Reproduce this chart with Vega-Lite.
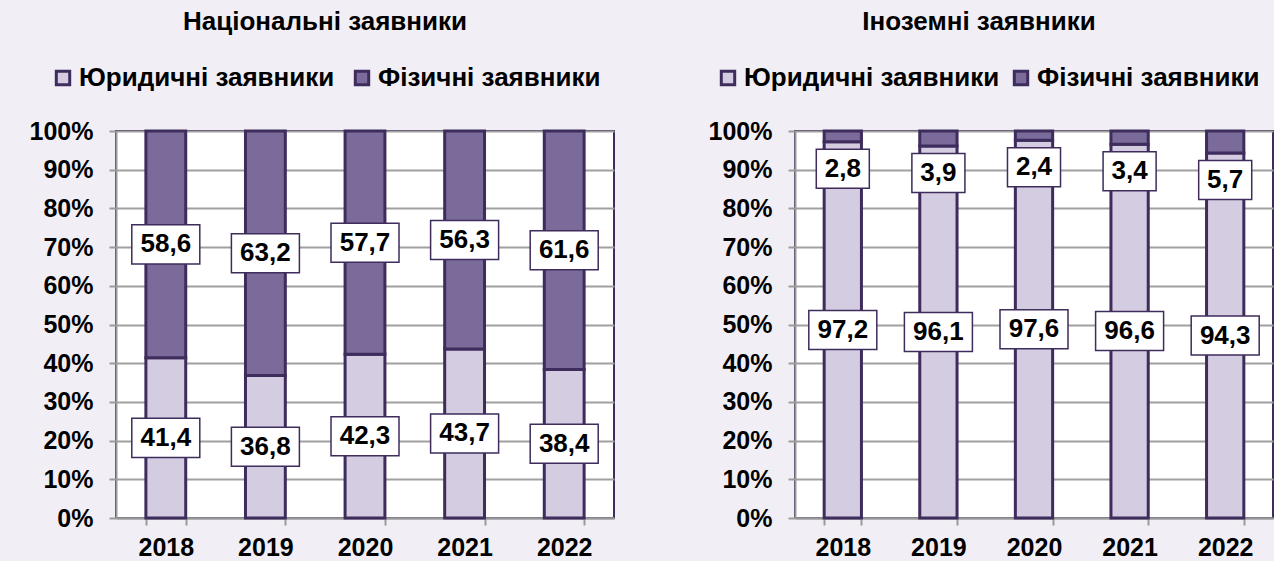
{
  "$schema": "https://vega.github.io/schema/vega-lite/v6.json",
  "background": "#F1EFF5",
  "padding": {"left": 28, "top": 8, "right": 0, "bottom": 0},
  "spacing": 92,
  "resolve": {"scale": {"color": "independent"}, "legend": {"color": "independent"}},
  "config": {
    "font": "Liberation Sans",
    "locale": {"number": {"decimal": ",", "thousands": " ", "grouping": [3], "currency": ["", ""]}},
    "view": {"fill": "white", "stroke": "#3E2C5C", "strokeWidth": 2},
    "title": {"fontSize": 26, "fontWeight": "bold", "color": "black", "font": "Liberation Sans"},
    "axisX": {"labelAngle": 0, "title": null, "domainColor": "#9A9A9A", "domainWidth": 2, "tickColor": "#9A9A9A", "tickWidth": 2, "tickSize": 7, "tickBand": "extent", "labelFontSize": 25, "labelFontWeight": "bold", "labelColor": "black", "labelPadding": 10, "grid": false},
    "axisY": {"title": null, "values": [0, 10, 20, 30, 40, 50, 60, 70, 80, 90, 100], "labelExpr": "datum.value + '%'", "grid": true, "gridColor": "#A0A0A0", "gridWidth": 2, "domainColor": "#9A9A9A", "domainWidth": 2, "tickColor": "#9A9A9A", "tickWidth": 2, "tickSize": 7, "labelPadding": 16, "labelFontSize": 25, "labelFontWeight": "bold", "labelColor": "black"},
    "legend": {"orient": "none", "direction": "horizontal", "title": null, "labelFontSize": 26, "labelFontWeight": "bold", "labelColor": "black", "symbolType": "square", "symbolSize": 180, "symbolStrokeColor": "#3E2C5C", "symbolStrokeWidth": 3, "symbolOpacity": 1, "columnPadding": 14, "labelOffset": 3, "labelLimit": 400}
  },
  "datasets": {
    "nat": [
      {"year": "2018", "series": "Юридичні заявники", "value": 41.4},
      {"year": "2018", "series": "Фізичні заявники", "value": 58.6},
      {"year": "2019", "series": "Юридичні заявники", "value": 36.8},
      {"year": "2019", "series": "Фізичні заявники", "value": 63.2},
      {"year": "2020", "series": "Юридичні заявники", "value": 42.3},
      {"year": "2020", "series": "Фізичні заявники", "value": 57.7},
      {"year": "2021", "series": "Юридичні заявники", "value": 43.7},
      {"year": "2021", "series": "Фізичні заявники", "value": 56.3},
      {"year": "2022", "series": "Юридичні заявники", "value": 38.4},
      {"year": "2022", "series": "Фізичні заявники", "value": 61.6}
    ],
    "for": [
      {"year": "2018", "series": "Юридичні заявники", "value": 97.2},
      {"year": "2018", "series": "Фізичні заявники", "value": 2.8},
      {"year": "2019", "series": "Юридичні заявники", "value": 96.1},
      {"year": "2019", "series": "Фізичні заявники", "value": 3.9},
      {"year": "2020", "series": "Юридичні заявники", "value": 97.6},
      {"year": "2020", "series": "Фізичні заявники", "value": 2.4},
      {"year": "2021", "series": "Юридичні заявники", "value": 96.6},
      {"year": "2021", "series": "Фізичні заявники", "value": 3.4},
      {"year": "2022", "series": "Юридичні заявники", "value": 94.3},
      {"year": "2022", "series": "Фізичні заявники", "value": 5.7}
    ]
  },
  "hconcat": [
    {
      "width": 498,
      "height": 387,
      "title": {"text": "Національні заявники", "anchor": "middle", "frame": "group", "dx": -40, "offset": 30},
      "data": {"name": "nat"},
      "transform": [{"stack": "value", "groupby": ["year"], "sort": [{"field": "series", "order": "descending"}], "as": ["v0", "v1"]}],
      "layer": [
        {
          "mark": {"type": "bar", "stroke": "#3E2C5C", "strokeWidth": 3},
          "encoding": {
            "x": {"field": "year", "type": "ordinal", "scale": {"paddingInner": 0.6, "paddingOuter": 0.3}},
            "y": {"field": "v0", "type": "quantitative", "scale": {"domain": [0, 100]}},
            "y2": {"field": "v1"},
            "color": {"field": "series", "type": "nominal", "scale": {"domain": ["Юридичні заявники", "Фізичні заявники"], "range": ["#D4CCE0", "#7B6B9B"]}, "legend": {"legendX": -66, "legendY": -66}}
          }
        },
        {
          "transform": [{"fold": ["v0", "v1"], "as": ["edge", "pos"]}],
          "mark": {"type": "point", "shape": "M-1,-0.574L1,-0.574L1,0.574L-1,0.574Z", "size": 4624, "filled": true, "fill": "white", "stroke": "#3E2C5C", "strokeWidth": 1.5, "opacity": 1},
          "encoding": {
            "x": {"field": "year", "type": "ordinal"},
            "y": {"aggregate": "mean", "field": "pos", "type": "quantitative", "stack": null},
            "detail": {"field": "series", "type": "nominal"}
          }
        },
        {
          "transform": [{"fold": ["v0", "v1"], "as": ["edge", "pos"]}],
          "mark": {"type": "text", "fontSize": 26, "fontWeight": "bold", "color": "black", "baseline": "middle", "align": "center"},
          "encoding": {
            "x": {"field": "year", "type": "ordinal"},
            "y": {"aggregate": "mean", "field": "pos", "type": "quantitative", "stack": null},
            "detail": {"field": "series", "type": "nominal"},
            "text": {"aggregate": "max", "field": "value", "type": "quantitative", "format": ".1f"}
          }
        }
      ]
    },
    {
      "width": 478,
      "height": 387,
      "title": {"text": "Іноземні заявники", "anchor": "middle", "frame": "group", "dx": -55, "offset": 30},
      "data": {"name": "for"},
      "transform": [{"stack": "value", "groupby": ["year"], "sort": [{"field": "series", "order": "descending"}], "as": ["v0", "v1"]}],
      "layer": [
        {
          "mark": {"type": "bar", "stroke": "#3E2C5C", "strokeWidth": 3},
          "encoding": {
            "x": {"field": "year", "type": "ordinal", "scale": {"paddingInner": 0.61, "paddingOuter": 0.305}},
            "y": {"field": "v0", "type": "quantitative", "scale": {"domain": [0, 100]}},
            "y2": {"field": "v1"},
            "color": {"field": "series", "type": "nominal", "scale": {"domain": ["Юридичні заявники", "Фізичні заявники"], "range": ["#D4CCE0", "#7B6B9B"]}, "legend": {"legendX": -80, "legendY": -66, "columnPadding": 8}}
          }
        },
        {
          "transform": [{"filter": "datum.series == 'Юридичні заявники'"}, {"fold": ["v0", "v1"], "as": ["edge", "pos"]}],
          "mark": {"type": "point", "shape": "M-1,-0.574L1,-0.574L1,0.574L-1,0.574Z", "size": 4624, "filled": true, "fill": "white", "stroke": "#3E2C5C", "strokeWidth": 1.5, "opacity": 1},
          "encoding": {
            "x": {"field": "year", "type": "ordinal"},
            "y": {"aggregate": "mean", "field": "pos", "type": "quantitative", "stack": null}
          }
        },
        {
          "transform": [{"filter": "datum.series == 'Юридичні заявники'"}, {"fold": ["v0", "v1"], "as": ["edge", "pos"]}],
          "mark": {"type": "text", "fontSize": 26, "fontWeight": "bold", "color": "black", "baseline": "middle", "align": "center"},
          "encoding": {
            "x": {"field": "year", "type": "ordinal"},
            "y": {"aggregate": "mean", "field": "pos", "type": "quantitative", "stack": null},
            "text": {"aggregate": "max", "field": "value", "type": "quantitative", "format": ".1f"}
          }
        },
        {
          "transform": [{"filter": "datum.series == 'Фізичні заявники'"}],
          "mark": {"type": "point", "shape": "M-0.78,-0.574L0.78,-0.574L0.78,0.574L-0.78,0.574Z", "size": 4624, "filled": true, "fill": "white", "stroke": "#3E2C5C", "strokeWidth": 1.5, "opacity": 1},
          "encoding": {
            "x": {"field": "year", "type": "ordinal"},
            "y": {"field": "v0", "type": "quantitative"},
            "yOffset": {"value": 27}
          }
        },
        {
          "transform": [{"filter": "datum.series == 'Фізичні заявники'"}],
          "mark": {"type": "text", "fontSize": 26, "fontWeight": "bold", "color": "black", "baseline": "middle", "align": "center"},
          "encoding": {
            "x": {"field": "year", "type": "ordinal"},
            "y": {"field": "v0", "type": "quantitative"},
            "yOffset": {"value": 27},
            "text": {"field": "value", "type": "quantitative", "format": ".1f"}
          }
        }
      ]
    }
  ]
}
